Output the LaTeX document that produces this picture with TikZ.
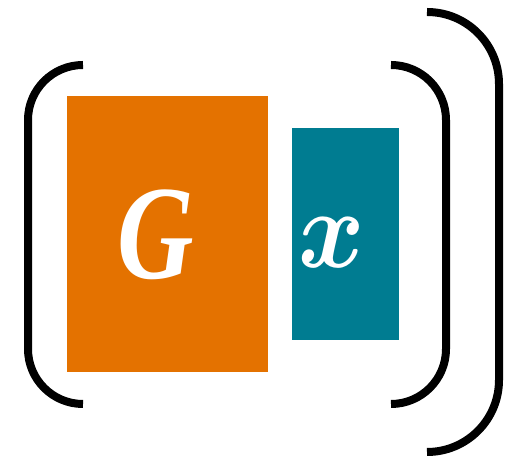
\RequirePackage{fix-cm}
\documentclass[tikz,border=0pt]{standalone}
\usepackage{graphicx}
\usepackage{fontspec}
\setmainfont{Liberation Serif}
\definecolor{borange}{HTML}{E47200}
\definecolor{bteal}{HTML}{007C91}
\tikzset{
  block/.style={draw=none, inner sep=0pt, outer sep=0pt},
  lbl/.style={text=white, inner sep=0pt},
  brk/.style={line width=8pt, draw=black, line cap=butt}
}
\begin{document}
\begin{tikzpicture}[x=1pt,y=1pt]
\useasboundingbox (0,0) rectangle (519,462);
\node[block, fill=borange, minimum width=201pt, minimum height=276pt] (G) at (167.5,228) {};
\node[block, fill=bteal, minimum width=107pt, minimum height=212pt] (x) at (345.5,228) {};
\node[lbl, font=\fontsize{134}{134}\selectfont\bfseries\itshape] (Gl) at (156,227) {\scalebox{0.79}[1]{G}};
\node[lbl, font=\fontsize{112}{112}\selectfont\boldmath] (xl) at (332,219.5) {\scalebox{0.9}[1]{$x$}};
\draw[brk] (83,397) arc (90:180:55) -- (28,113) arc (180:270:55);
\draw[brk] (391,397) arc (90:0:55) -- (446,113) arc (0:-90:55);
\draw[brk] (427,450) arc (90:0:72) -- (499,82) arc (0:-90:72);
\end{tikzpicture}
\end{document}
